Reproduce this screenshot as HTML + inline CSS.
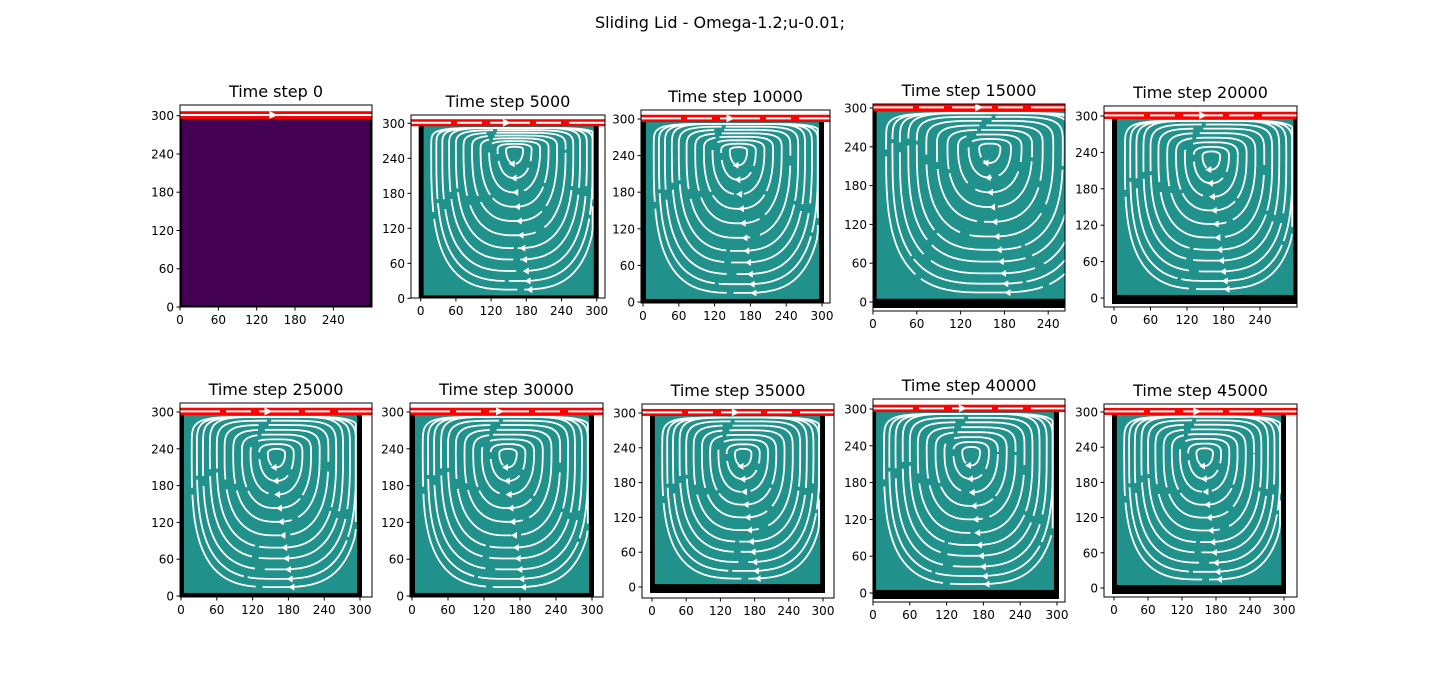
<!DOCTYPE html>
<html><head><meta charset="utf-8"><style>
html,body{margin:0;padding:0;background:#fff;}
svg{display:block;font-family:"DejaVu Sans","Liberation Sans",sans-serif;}
</style></head><body>
<svg id="fig" width="1440" height="700" viewBox="0 0 1440 700">
<text x="720" y="28" text-anchor="middle" font-size="16" fill="#000">Sliding Lid - Omega-1.2;u-0.01;</text>
</svg>
<script>
// panel data
const panelSteps = [0,5000,10000,15000,20000,25000,30000,35000,40000,45000];
const yTickValues = [0,60,120,180,240,300];
const xTicksShort = [0,60,120,180,240];
const xTicksLong = [0,60,120,180,240,300];
const panelLongX = [false,true,true,false,false,true,true,true,true,true];
const vortexCenterX = [150,160,160,160,160,160,160,160,160,160];
const vortexCenterY = [250,255,248,238,234,232,232,230,230,230];
const loopScales = [0.1,0.2,0.3,0.4,0.5,0.6,0.69,0.77,0.85,0.92,0.98];
// layout: [L,T,R,B, x0px, x300px, y0px, y300px]
const boxes = [
 [180,105,372,307,180,371.7,307,115.7],
 [411,115,605,298,420.7,596.7,298.3,123.3],
 [641,110,830,303,643,822,302,119],
 [873,104,1065,311,873,1092,302,108],
 [1104,106,1297,307,1114,1296.5,298,116],
 [180,403,372,597,181,360,596,412],
 [410,403,603,597,412,592,596,412],
 [642,404,834,598,652,823,587,413],
 [873,399,1065,602,873,1057,593,409],
 [1104,404,1297,597,1114,1284,588,412]
];
const svg = document.getElementById('fig');
const NS = 'http://www.w3.org/2000/svg';
function mk(tag, attrs, parent){const e=document.createElementNS(NS,tag);for(const k in attrs)e.setAttribute(k,attrs[k]);parent.appendChild(e);return e;}

panelSteps.forEach((step,i)=>{
  const [L,T,R,B,x0,x300,y0,y300]=boxes[i];
  const sx=v=>x0+(x300-x0)*v/300;
  const sy=v=>y0+(y300-y0)*v/300;
  const g=mk('g',{},svg);
  
  
  const cp='clip'+i;
  const defs=mk('defs',{},g);
  const c=mk('clipPath',{id:cp},defs);
  mk('rect',{x:L,y:T,width:R-L,height:B-T},c);
  const inner=mk('g',{'clip-path':'url(#'+cp+')'},g);
  const dom=mk('rect',{x:sx(0)-2,y:sy(300),width:sx(300)-sx(0)+4,height:sy(0)-sy(300)+6,fill:'#000'},inner);
  
  
  if(i===0){
    const p=mk('rect',{x:sx(3),y:sy(297),width:sx(297)-sx(3),height:sy(3)-sy(297),fill:'#440154'},inner);
    
    
  } else {
    const p=mk('rect',{x:sx(5),y:sy(295),width:sx(295)-sx(5),height:sy(5)-sy(295),fill:'#21918c'},inner);
    
    
  }
  const lid=mk('rect',{x:L,y:sy(307),width:R-L,height:sy(295)-sy(307),fill:'#ff0000'},inner);
  
  
  mk('line',{x1:L,x2:R,y1:sy(301),y2:sy(301),stroke:'#fff','stroke-width':2,'stroke-dasharray':i===0?'':'40,6,25,8'},inner);
  mk('path',{d:`M${sx(140)},${sy(301)-4}l8,4l-8,4z`,fill:'#fff'},inner);
  if(i>0){
    const cx=vortexCenterX[i], cy=vortexCenterY[i];
    loopScales.forEach((s,k)=>{
      const hx=145*s, up=(292-cy)*Math.min(1,s*1.3), dn=(cy-10)*s;
      const exTop=2+4*s, exBot=2+1.2*s;
      let d='';
      for(let a=0;a<=90;a++){
        const t=a/90*2*Math.PI;
        const c1=Math.cos(t), s1=Math.sin(t);
        const ex=s1>0?exTop:exBot;
        const px=cx+hx*Math.sign(c1)*Math.pow(Math.abs(c1),2/ex);
        const r=s1>0?up:dn;
        const py=cy+r*Math.sign(s1)*Math.pow(Math.abs(s1),2/ex);
        d+=(a?'L':'M')+sx(Math.min(293,Math.max(7,px))).toFixed(1)+','+sy(py).toFixed(1);
      }
      const ln=mk('path',{d:d,fill:'none',stroke:'#fff','stroke-width':1.8,'stroke-dasharray':(35+k*9)+','+(4+k%3*3)},inner);
      
      
      const ax=sx(cx-10+k*3), ay=sy(cy-dn);
      mk('path',{d:`M${ax},${ay}l6,-3.5v7z`,fill:'#fff'},inner);
    });
  }
  const fr=mk('rect',{x:L,y:T,width:R-L,height:B-T,fill:'none',stroke:'#000','stroke-width':1},g);
  
  
  const tt=mk('text',{x:(L+R)/2,y:T-8,'text-anchor':'middle','font-size':16,fill:'#000'},g);
  tt.textContent='Time step '+step;
  
  
  const xt=panelLongX[i]?xTicksLong:xTicksShort;
  xt.forEach(v=>{
    mk('line',{x1:sx(v),x2:sx(v),y1:B,y2:B+3.5,stroke:'#000'},g);
    const t=mk('text',{x:sx(v),y:B+17,'text-anchor':'middle','font-size':12,fill:'#000'},g);
    t.textContent=v;
    
    
  });
  yTickValues.forEach(v=>{
    mk('line',{x1:L,x2:L-3.5,y1:sy(v),y2:sy(v),stroke:'#000'},g);
    const t=mk('text',{x:L-6,y:sy(v)+4.5,'text-anchor':'end','font-size':12,fill:'#000'},g);
    t.textContent=v;
    
    
  });
});
</script>
</body></html>
